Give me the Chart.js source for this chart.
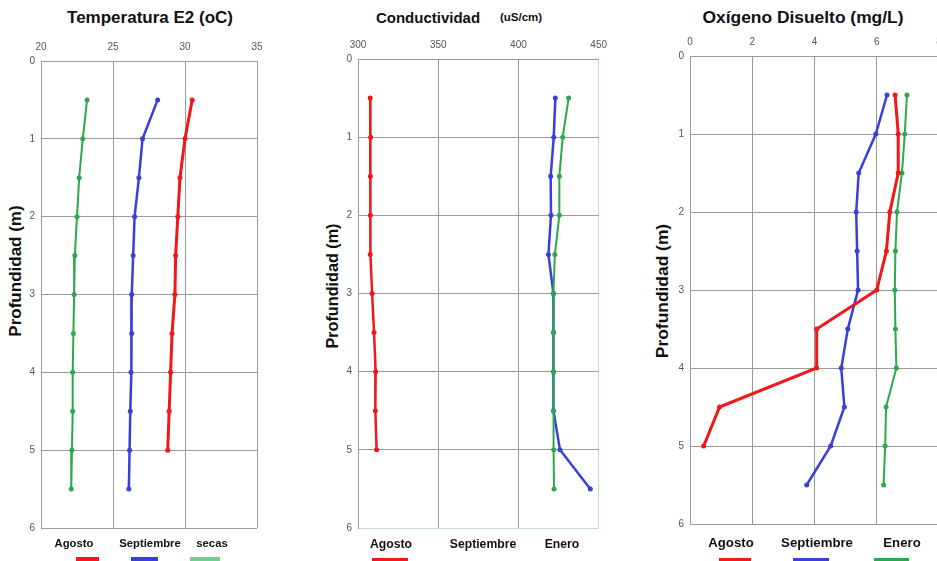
<!DOCTYPE html>
<html>
<head>
  <meta charset="utf-8" />
  <title>Perfiles E2</title>
  <style>
    html, body { margin: 0; padding: 0; background: #fff; overflow: hidden; }
    body { width: 937px; height: 561px; position: relative; font-family: "Liberation Sans", Arial, sans-serif; }
    canvas { position: absolute; }
    .t { position: absolute; font-weight: bold; color: #111; white-space: nowrap; transform: translate(-50%, -50%); }
    .v { position: absolute; font-weight: bold; color: #111; white-space: nowrap; transform: translate(-50%, -50%) rotate(-90deg); }
    .bar { position: absolute; height: 4px; }
  </style>
</head>
<body>
  <div class="t" style="left:150px; top:18px; font-size:17px;">Temperatura E2 (oC)</div>
  <div class="t" style="left:428px; top:17px; font-size:15px;">Conductividad</div>
  <div class="t" style="left:521px; top:17px; font-size:11.5px;">(uS/cm)</div>
  <div class="t" style="left:803px; top:17px; font-size:17.4px;">Oxígeno Disuelto (mg/L)</div>

  <div class="v" style="left:16px; top:271px; font-size:17px;">Profundidad (m)</div>
  <div class="v" style="left:332px; top:286px; font-size:16.2px;">Profundidad (m)</div>
  <div class="v" style="left:662px; top:291px; font-size:17.4px;">Profundidad (m)</div>

  <canvas id="temp" width="275" height="510" style="left:0; top:30px;"></canvas>
  <canvas id="cond" width="315" height="512" style="left:300px; top:28px;"></canvas>
  <canvas id="oxi" width="320" height="510" style="left:630px; top:26px;"></canvas>

  <!-- leyendas -->
  <div class="t" style="left:74px; top:543px; font-size:11.3px;">Agosto</div>
  <div class="t" style="left:150px; top:543px; font-size:11.3px;">Septiembre</div>
  <div class="t" style="left:212px; top:543px; font-size:11.3px;">secas</div>
  <div class="bar" style="left:76px; width:23px; top:557px; background:#f01818;"></div>
  <div class="bar" style="left:131px; width:27px; top:557px; background:#3a3fd8;"></div>
  <div class="bar" style="left:190px; width:30px; top:557px; background:#6fd08f;"></div>

  <div class="t" style="left:391px; top:544px; font-size:12.2px;">Agosto</div>
  <div class="t" style="left:483px; top:544px; font-size:12.2px;">Septiembre</div>
  <div class="t" style="left:562px; top:544px; font-size:12.2px;">Enero</div>
  <div class="bar" style="left:372px; width:36px; top:558px; background:#f01818;"></div>

  <div class="t" style="left:731px; top:542px; font-size:13.2px;">Agosto</div>
  <div class="t" style="left:817px; top:542px; font-size:13.2px;">Septiembre</div>
  <div class="t" style="left:902px; top:542px; font-size:13.2px;">Enero</div>
  <div class="bar" style="left:719px; width:32px; top:558px; background:#f01818;"></div>
  <div class="bar" style="left:793px; width:36px; top:558px; background:#3a3fd8;"></div>
  <div class="bar" style="left:874px; width:35px; top:558px; background:#2ca84c;"></div>

  <script src="https://cdn.jsdelivr.net/npm/chart.js@4.4.1/dist/chart.umd.min.js"></script>
  <script>
    // profundidades de muestreo (m)
    const depths = [0.5, 1, 1.5, 2, 2.5, 3, 3.5, 4, 4.5, 5, 5.5];

    // Temperatura (oC)
    const tempAgosto = [30.5, 30.0, 29.65, 29.5, 29.35, 29.3, 29.1, 29.0, 28.9, 28.8];
    const tempSeptiembre = [28.1, 27.05, 26.8, 26.5, 26.4, 26.3, 26.3, 26.25, 26.2, 26.15, 26.1];
    const tempSecas = [23.2, 22.9, 22.65, 22.5, 22.35, 22.3, 22.25, 22.2, 22.2, 22.15, 22.1];

    // Conductividad (uS/cm)
    const condAgosto = [307.6, 307.9, 307.7, 307.7, 307.6, 308.8, 310.0, 311.0, 310.8, 311.6];
    const condSeptiembre = [423.0, 422.0, 420.1, 420.3, 418.7, 421.8, 421.8, 421.8, 421.8, 425.9, 444.8];
    const condEnero = [431.3, 427.6, 425.5, 425.5, 422.7, 421.8, 421.8, 422.0, 421.8, 422.0, 422.2];

    // Oxigeno disuelto (mg/L)
    const oxiAgosto = [6.59, 6.69, 6.69, 6.42, 6.31, 6.0, 4.07, 4.07, 0.95, 0.44];
    const oxiSeptiembre = [6.33, 5.97, 5.42, 5.34, 5.37, 5.4, 5.07, 4.86, 4.96, 4.52, 3.75];
    const oxiEnero = [6.97, 6.9, 6.81, 6.65, 6.6, 6.58, 6.6, 6.63, 6.3, 6.27, 6.22];

    const RED = '#f01818', BLUE = '#3a3fd8', GREEN = '#2ca84c';
    const GRID = '#9a9a9a';

    function points(values) {
      return values.map((v, i) => ({ x: v, y: depths[i] }));
    }

    // order: el menor se dibuja encima
    function serie(label, values, color, width, order) {
      return {
        label: label,
        data: points(values),
        borderColor: color,
        backgroundColor: color,
        borderWidth: width,
        pointRadius: 2.5,
        pointBorderWidth: 0,
        tension: 0,
        order: order || 0
      };
    }

    function drawProfile(id, o) {
      new Chart(document.getElementById(id), {
        type: 'line',
        data: { datasets: o.datasets },
        options: {
          responsive: false,
          animation: false,
          layout: { padding: { left: 0, top: 0, right: o.padRight, bottom: o.padBottom } },
          plugins: { legend: { display: false }, tooltip: { enabled: false } },
          scales: {
            x: {
              type: 'linear',
              position: 'top',
              min: o.xMin, max: o.xMax,
              ticks: { stepSize: o.step, padding: 8, color: '#555', font: { family: 'Liberation Sans', size: 10 } },
              grid: { drawTicks: false, color: o.xGridColor || GRID, lineWidth: 1 },
              border: { color: GRID },
              afterFit: s => { s.height = o.xHeight; }
            },
            y: {
              type: 'linear',
              reverse: true,
              min: 0, max: 6,
              ticks: { stepSize: 1, padding: 6, color: '#555', font: { family: 'Liberation Sans', size: 10 } },
              grid: { drawTicks: false, color: o.yGridColor || GRID, lineWidth: 1 },
              border: { color: GRID },
              afterFit: s => { s.width = o.yWidth; }
            }
          }
        }
      });
    }

    drawProfile('temp', {
      xMin: 20, xMax: 35, step: 5,
      xHeight: 31, yWidth: 41, padRight: 18, padBottom: 12,
      datasets: [
        serie('Agosto', tempAgosto, RED, 3),
        serie('Septiembre', tempSeptiembre, BLUE, 2.5),
        serie('secas', tempSecas, GREEN, 2)
      ]
    });

    drawProfile('cond', {
      xMin: 300, xMax: 450, step: 50,
      xHeight: 31, yWidth: 58, padRight: 13, padBottom: 11,
      xGridColor: ctx => (ctx.tick && ctx.tick.value === 450) ? '#b3e2c4' : GRID,
      yGridColor: ctx => (ctx.tick && ctx.tick.value === 6) ? '#c5dccd' : GRID,
      datasets: [
        serie('Agosto', condAgosto, RED, 2.5, 1),
        serie('Septiembre', condSeptiembre, BLUE, 2.5, 2),
        serie('Enero', condEnero, GREEN, 2, 0)
      ]
    });

    drawProfile('oxi', {
      xMin: 0, xMax: 8, step: 2,
      xHeight: 30, yWidth: 60, padRight: 11, padBottom: 10,
      datasets: [
        serie('Agosto', oxiAgosto, RED, 3),
        serie('Septiembre', oxiSeptiembre, BLUE, 2.5),
        serie('Enero', oxiEnero, GREEN, 2)
      ]
    });
  </script>
</body>
</html>
